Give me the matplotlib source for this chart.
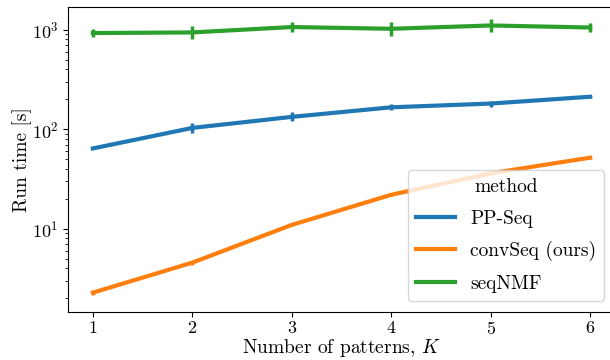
import numpy as np
import matplotlib
matplotlib.use("Agg")
import matplotlib.pyplot as plt

plt.rcParams['font.family'] = 'serif'
plt.rcParams['font.serif'] = ['cmr10', 'DejaVu Serif']
plt.rcParams['mathtext.fontset'] = 'cm'
plt.rcParams['axes.formatter.use_mathtext'] = True

K = [1, 2, 3, 4, 5, 6]
methods = ['PP-Seq', 'convSeq (ours)', 'seqNMF']
colors = ['#1f77b4', '#ff7f0e', '#2ca02c']

ppseq = [64, 103, 133, 166, 181, 212]
ppseq_err = [0.01, 0.053, 0.045, 0.03, 0.03, 0.01]      # half-width in log10 units
convseq = [2.27, 4.55, 10.9, 21.9, 36.0, 51.7]
convseq_err = [0.02, 0.02, 0.015, 0.015, 0.015, 0.01]
seqnmf = [927, 940, 1065, 1023, 1104, 1054]
seqnmf_err = [0.037, 0.067, 0.047, 0.07, 0.067, 0.05]

fig = plt.figure(figsize=(6.1, 3.6), dpi=100)
ax = fig.add_axes([68 / 610, 48 / 360, 547 / 610, 305 / 360])

for name, vals, err, c in zip(methods, [ppseq, convseq, seqnmf],
                              [ppseq_err, convseq_err, seqnmf_err], colors):
    vals = np.asarray(vals, dtype=float)
    err = np.asarray(err)
    lo = vals - vals / 10 ** err
    hi = vals * 10 ** err - vals
    ax.errorbar(K, vals, yerr=[lo, hi], color=c, lw=3, elinewidth=2.5,
                capsize=0, label=name)

ax.set_yscale('log')
ax.set_xlim(0.75, 6.25)
ax.set_ylim(1.45, 1694)
ax.set_xticks(K)
ax.tick_params(labelsize=13)
ax.tick_params(axis='x', pad=2.5)
ax.set_xlabel('Number of patterns, $K$', fontsize=14, labelpad=0)
ax.set_ylabel('Run time [s]', fontsize=14, labelpad=0)

handles, labels = ax.get_legend_handles_labels()
handles = [h[0] for h in handles]
ax.legend(handles, labels, title='method', loc='lower right',
          bbox_to_anchor=(0.9977, 0.005), fontsize=14, title_fontsize=14,
          handlelength=2.0, labelspacing=0.7)

plt.savefig('out.png', dpi=100)
